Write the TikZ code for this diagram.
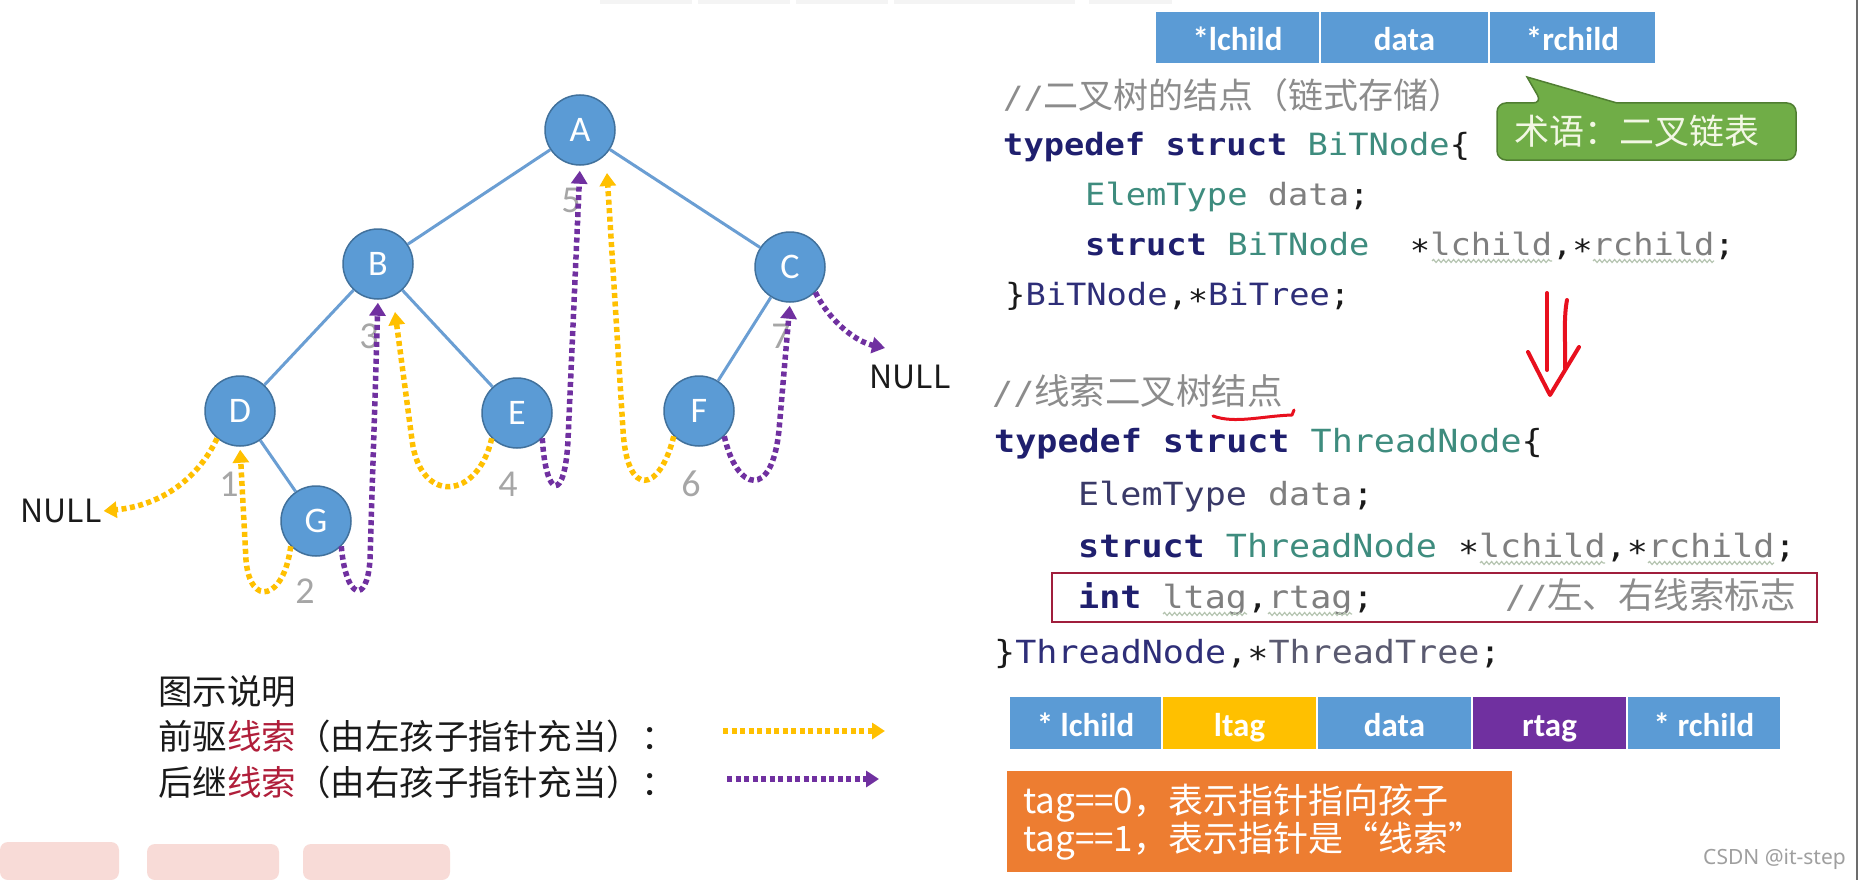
\documentclass[tikz,border=0pt]{standalone}
\usepackage{fontspec}
\setmainfont{Carlito}
\newfontfamily\cjk{Noto Sans CJK SC}
\newfontfamily\codefont[FakeStretch=1.1]{DejaVu Sans Mono}
\newfontfamily\nsans{Noto Sans}
\usetikzlibrary{arrows.meta,decorations.pathmorphing}

\definecolor{nodeblue}{HTML}{5B9BD5}
\definecolor{nodeborder}{HTML}{41719C}
\definecolor{edgeblue}{HTML}{6A9ED3}
\definecolor{thrY}{HTML}{FFC000}
\definecolor{thrP}{HTML}{7030A0}
\definecolor{numgray}{HTML}{A6A6A6}
\definecolor{kwc}{HTML}{1F1F6E}
\definecolor{navyc}{HTML}{2E2E78}
\definecolor{slatec}{HTML}{3A3A68}
\definecolor{tyc}{HTML}{3E8C7E}
\definecolor{idc}{HTML}{7F7F7F}
\definecolor{grayid}{HTML}{5A5A70}
\definecolor{cmc}{HTML}{8C8C8C}
\definecolor{darkc}{HTML}{1A1A1A}
\definecolor{greenbox}{HTML}{70AD47}
\definecolor{greenborder}{HTML}{507E32}
\definecolor{callouttext}{HTML}{F2F7E4}
\definecolor{orangebox}{HTML}{ED7D31}
\definecolor{redhandc}{HTML}{E8101E}
\definecolor{boxred}{HTML}{A01E3C}
\definecolor{legred}{HTML}{B01E3A}
\definecolor{wavyc}{HTML}{B5C4B0}
\definecolor{pinkblur}{HTML}{F7D3CD}

\newcommand\KW[1]{{\bfseries\color{kwc}#1}}
\newcommand\TY[1]{{\color{tyc}#1}}
\newcommand\ID[1]{{\color{idc}#1}}

\tikzset{
  tnode/.style={circle, minimum size=70pt, inner sep=0pt, fill=nodeblue, draw=nodeborder,
    line width=1.5pt, text=white, font=\fontsize{36}{40}\selectfont},
  tedge/.style={draw=edgeblue, line width=3pt},
  thread/.style={line width=5.5pt, dash pattern=on 5pt off 3.5pt,
    -{Triangle[length=13pt,width=16pt]}},
  predY/.style={thread, color=thrY},
  succP/.style={thread, color=thrP},
  numlbl/.style={text=numgray, font=\fontsize{38}{40}\selectfont, inner sep=0pt},
  nulllbl/.style={text=darkc, font=\cjk\fontsize{32}{36}\selectfont, inner sep=2pt},
  codeA/.style={anchor=base west, inner sep=0pt, text=darkc, font=\codefont\fontsize{30.65}{36}\selectfont},
  codeB/.style={anchor=base west, inner sep=0pt, text=darkc, font=\codefont\fontsize{31.86}{36}\selectfont},
  cellbox/.style={minimum height=54pt, inner sep=0pt, draw=white, line width=2.5pt, text=white,
    font=\bfseries\fontsize{33}{36}\selectfont, text height=26pt, text depth=0pt},
  wavy/.style={draw=wavyc, line width=1.2pt, decorate, decoration={snake, amplitude=1.5pt, segment length=5pt}},
  legendtxt/.style={anchor=base west, inner sep=0pt, text=darkc, font=\cjk\fontsize{34.5}{40}\selectfont},
  redhand/.style={draw=redhandc, line width=4pt, line cap=round, line join=round}
}

\begin{document}
\begin{tikzpicture}[x=1pt,y=-1pt]
\useasboundingbox (0,0) rectangle (1860,880);
\fill[white] (0,0) rectangle (1860,880);

% faint residues at edges
\fill[gray!9] (600,0) rectangle (692,4);
\fill[gray!9] (698,0) rectangle (790,4);
\fill[gray!9] (796,0) rectangle (888,4);
\fill[gray!9] (894,0) rectangle (1075,4);
\fill[gray!9] (1089,0) rectangle (1172,4);
\fill[pinkblur, opacity=0.8, rounded corners=8pt] (0,842) rectangle (119,880);
\fill[pinkblur, opacity=0.8, rounded corners=8pt] (147,844) rectangle (279,880);
\fill[pinkblur, opacity=0.8, rounded corners=8pt] (303,844) rectangle (450,880);
\draw[line width=2pt, color=gray!85!black] (1857,0) -- (1857,880);

% ---------- tree ----------
\node[numlbl] (n5) at (571,200) {5};
\node[numlbl] (n3) at (369,336) {3};
\node[numlbl] (n7) at (781,336) {7};
\node[numlbl] (n1) at (229,484) {1};
\node[numlbl] (n4) at (508,484) {4};
\node[numlbl] (n6) at (691,484) {6};
\node[numlbl] (n2) at (305,591) {2};

\node[tnode] (A) at (580,130) {A};
\node[tnode] (B) at (378,264) {B};
\node[tnode] (C) at (790,267) {C};
\node[tnode] (D) at (240,411) {D};
\node[tnode] (E) at (517,413) {E};
\node[tnode] (F) at (699,411) {F};
\node[tnode] (G) at (316,521) {G};

\draw[tedge] (A) -- (B);
\draw[tedge] (A) -- (C);
\draw[tedge] (B) -- (D);
\draw[tedge] (B) -- (E);
\draw[tedge] (C) -- (F);
\draw[tedge] (D) -- (G);

\node[nulllbl] (nullL) at (61,511) {NULL};
\node[nulllbl] (nullR) at (910,377) {NULL};

\coordinate (tA) at (607,173);
\coordinate (tB) at (395,312);
\coordinate (tNR) at (885,348);

% predecessor threads (yellow)
\draw[predY] (D.230) .. controls (200,475) and (165,505) .. (nullL.east);
\draw[predY, shorten >=3pt] (G.225) .. controls (284,600) and (250,608) .. (246,560) -- (D.south);
\draw[predY] (E.225) .. controls (478,500) and (420,505) .. (412,440) -- (tB);
\draw[predY] (F.225) .. controls (660,492) and (627,500) .. (623,430) -- (tA);

% successor threads (purple)
\draw[succP, shorten >=3pt] (G.315) .. controls (346,600) and (367,605) .. (370,560) -- (B.south);
\draw[succP, shorten >=5pt] (E.315) .. controls (546,500) and (565,502) .. (568,440) -- (A.south);
\draw[succP, shorten >=3pt] (F.315) .. controls (737,492) and (772,500) .. (779,430) -- (C.south);
\draw[succP] (C.315) .. controls (832,325) and (858,342) .. (tNR);

% ---------- legend ----------
\node[legendtxt] (lg0) at (158,704) {图示说明};
\node[legendtxt] (lg1) at (158,749) {前驱\textcolor{legred}{线索}（由左孩子指针充当）：};
\node[legendtxt] (lg2) at (158,795) {后继\textcolor{legred}{线索}（由右孩子指针充当）：};
\coordinate (ly1) at (723,731);
\coordinate (ly2) at (885,731);
\coordinate (lp1) at (727,779);
\coordinate (lp2) at (879,779);
\draw[predY] (ly1) -- (ly2);
\draw[succP] (lp1) -- (lp2);

% ---------- top table ----------
\node[cellbox, fill=nodeblue, minimum width=165pt] (t1) at (1237.5,37.5) {*lchild};
\node[cellbox, fill=nodeblue, minimum width=169pt] (t2) at (1404.5,37.5) {data};
\node[cellbox, fill=nodeblue, minimum width=167pt] (t3) at (1572.5,37.5) {*rchild};

% ---------- callout ----------
\path[draw=greenborder, fill=greenbox, line width=1.5pt, rounded corners=9pt]
  (1497,130) |- (1542,103) [sharp corners] -- (1527,77) -- (1617,103)
  [rounded corners=9pt] -| (1796,160) -| cycle;
\node[text=callouttext, font=\cjk\fontsize{35}{40}\selectfont, inner sep=0pt] (term) at (1637,131) {术语：二叉链表};

% ---------- code block 1 ----------
\node[codeA] (c1a) at (1003,109) {\color{cmc}//{\cjk\fontsize{35}{40}\selectfont 二叉树的结点（链式存储）}};
\node[codeA] (c1b) at (1003,156) {\KW{typedef struct} \TY{BiTNode}\{};
\node[codeA] (c1c) at (1085,205) {\TY{ElemType} \ID{data};};
\node[codeA] (c1d) at (1085,255) {\KW{struct} \TY{BiTNode}~~∗\ID{lchild},∗\ID{rchild};};
\node[codeA] (c1e) at (1005,305) {\}\textcolor{navyc}{BiTNode},∗\textcolor{navyc}{BiTree};};
\draw[wavy] (1432,261) -- (1552,261);
\draw[wavy] (1593,261) -- (1714,261);

% hand-drawn red arrow
\draw[redhand] (1547,293) -- (1547,370);
\draw[redhand] (1567,300) .. controls (1563,320) and (1566,350) .. (1565,368);
\draw[redhand] (1528,352) -- (1550,395) -- (1579,347);

% ---------- code block 2 ----------
\node[codeB] (c2a) at (992,404) {\color{cmc}//{\cjk\fontsize{35.5}{40}\selectfont 线索二叉树结点}};
\draw[redhand, line width=3pt] (1213,416) .. controls (1235,424) and (1262,416) .. (1292,415) -- (1294,410);
\node[codeB] (c2b) at (994,452) {\KW{typedef struct} \TY{ThreadNode}\{};
\node[codeB] (c2c) at (1078,505) {\textcolor{slatec}{ElemType} \ID{data};};
\node[codeB] (c2d) at (1078,557) {\KW{struct} \TY{ThreadNode} ∗\ID{lchild},∗\ID{rchild};};
\node[codeB] (c2e) at (1078,608) {\KW{int} \ID{ltag},\ID{rtag};};
\node[codeB] (c2f) at (1505,608) {\color{cmc}//{\cjk\fontsize{35.5}{40}\selectfont 左、右线索标志}};
\node[codeB] (c2g) at (994,663) {\}\textcolor{navyc}{ThreadNode},∗\textcolor{grayid}{ThreadTree};};
\draw[wavy] (1480,563) -- (1605,563);
\draw[wavy] (1648,563) -- (1774,563);
\draw[wavy] (1163,614) -- (1247,614);
\draw[wavy] (1268,614) -- (1352,614);
\draw[draw=boxred, line width=2.5pt] (1052,573) rectangle (1817,622);

% ---------- bottom table ----------
\node[cellbox, fill=nodeblue, minimum width=153pt] (b1) at (1085.5,723) {* lchild};
\node[cellbox, fill=thrY, minimum width=155pt] (b2) at (1239.5,723) {ltag};
\node[cellbox, fill=nodeblue, minimum width=155pt] (b3) at (1394.5,723) {data};
\node[cellbox, fill=thrP, minimum width=155pt] (b4) at (1549.5,723) {rtag};
\node[cellbox, fill=nodeblue, minimum width=154pt] (b5) at (1704,723) {* rchild};

% ---------- tag explanation ----------
\node[fill=orangebox, minimum width=505pt, minimum height=101pt, inner sep=0pt, anchor=north west] (tagbox) at (1007,771) {};
\node[anchor=base west, inner sep=0pt, text=white, font=\cjk\fontsize{35}{40}\selectfont] (tag0) at (1023,813) {tag==0，表示指针指向孩子};
\node[anchor=base west, inner sep=0pt, text=white, font=\cjk\fontsize{35}{40}\selectfont] (tag1) at (1023,851) {tag==1，表示指针是“线索”};

\node[anchor=east, inner sep=0pt, text=gray!75, font=\nsans\fontsize{21}{24}\selectfont] (wm) at (1846,859) {CSDN @it-step};
\end{tikzpicture}
\end{document}
